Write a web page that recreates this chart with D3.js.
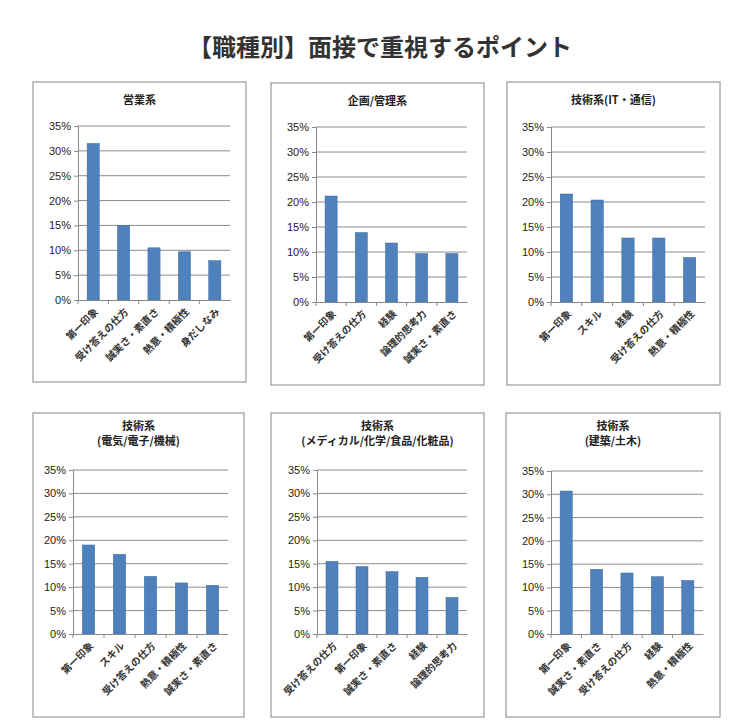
<!DOCTYPE html>
<html><head><meta charset="utf-8">
<script src="https://cdn.jsdelivr.net/npm/d3@7"></script>
<style>body{margin:0;background:#fff;font-family:"Noto Sans CJK JP",sans-serif}</style>
</head><body><svg width="742" height="728"></svg>
<script>
var titles = [["営業系"], ["企画/管理系"], ["技術系(IT・通信)"],
  ["技術系", "(電気/電子/機械)"], ["技術系", "(メディカル/化学/食品/化粧品)"], ["技術系", "(建築/土木)"]];
var cats = [
  ["第一印象", "受け答えの仕方", "誠実さ・素直さ", "熱意・積極性", "身だしなみ"],
  ["第一印象", "受け答えの仕方", "経験", "論理的思考力", "誠実さ・素直さ"],
  ["第一印象", "スキル", "経験", "受け答えの仕方", "熱意・積極性"],
  ["第一印象", "スキル", "受け答えの仕方", "熱意・積極性", "誠実さ・素直さ"],
  ["受け答えの仕方", "第一印象", "誠実さ・素直さ", "経験", "論理的思考力"],
  ["第一印象", "誠実さ・素直さ", "受け答えの仕方", "経験", "熱意・積極性"]];
var values = [
  [31.5, 15.0, 10.5, 9.7, 7.9],
  [21.2, 13.9, 11.8, 9.7, 9.7],
  [21.6, 20.4, 12.8, 12.8, 8.9],
  [19.0, 17.0, 12.3, 10.9, 10.4],
  [15.5, 14.4, 13.3, 12.1, 7.8],
  [30.7, 13.9, 13.1, 12.3, 11.5]];
var ticks = [0, 5, 10, 15, 20, 25, 30, 35];

// panel layout: box, axis x, top y, bottom y, right x
var panels = [
  {bx:33, by:82, bw:213, bh:300, ax:78, top:126, bot:300, rx:230},
  {bx:271, by:83, bw:213, bh:302, ax:316, top:127, bot:302, rx:467},
  {bx:507, by:82, bw:213, bh:303, ax:551, top:127, bot:302, rx:705},
  {bx:33, by:413, bw:211, bh:304, ax:73, top:470, bot:634, rx:228},
  {bx:271, by:413, bw:213, bh:304, ax:317, top:470, bot:634, rx:467},
  {bx:506, by:413, bw:214, bh:304, ax:551, top:471, bot:634, rx:703}];

var svg = d3.select("svg");
svg.append("text").attr("x", 380).attr("y", 56).attr("text-anchor", "middle")
  .attr("font-size", 24).attr("font-weight", "bold").attr("fill", "#333")
  .text("【職種別】面接で重視するポイント");

panels.forEach(function(p, i) {
  var g = svg.append("g");
  g.append("rect").attr("x", p.bx).attr("y", p.by).attr("width", p.bw).attr("height", p.bh)
    .attr("fill", "#fff").attr("stroke", "#999").attr("stroke-width", 1.2);
  var t = g.append("text").attr("text-anchor", "middle").attr("font-size", 11)
    .attr("font-weight", "bold").attr("fill", "#222");
  titles[i].forEach(function(s, k) {
    t.append("tspan").attr("x", p.bx + p.bw / 2)
      .attr("y", p.by + (titles[i].length == 1 ? 22 : 17 + k * 15)).text(s);
  });
  var x = d3.scaleBand().domain(cats[i]).range([p.ax, p.rx]);
  var y = d3.scaleLinear().domain([0, 35]).range([p.bot, p.top]);
  g.selectAll(".grid").data(ticks.slice(1)).enter().append("line")
    .attr("x1", p.ax).attr("x2", p.rx).attr("y1", y).attr("y2", y)
    .attr("stroke", "#8c8c8c").attr("stroke-width", 1);
  var ya = g.append("g").attr("transform", "translate(" + p.ax + ",0)")
    .call(d3.axisLeft(y).tickValues(ticks).tickSize(4).tickFormat(function(d){return d + "%";}));
  ya.selectAll("text").attr("font-size", 11).attr("fill", "#222").attr("font-family", "Liberation Sans, sans-serif");
  ya.selectAll("line,path").attr("stroke", "#888");
  g.selectAll(".bar").data(values[i]).enter().append("rect")
    .attr("x", function(d, j){return x(cats[i][j]) + x.bandwidth() * 0.3;})
    .attr("width", x.bandwidth() * 0.4)
    .attr("y", y).attr("height", function(d){return p.bot - y(d);})
    .attr("fill", "#4f81bd").attr("stroke", "#3c6a9e").attr("stroke-width", 0.5);
  var xa = g.append("g").attr("transform", "translate(0," + p.bot + ")")
    .call(d3.axisBottom(x).tickSize(0).tickFormat(""));
  xa.selectAll("path").attr("stroke", "#888");
  x.domain().forEach(function(c, j) {
    g.append("line").attr("x1", p.ax + j * x.step()).attr("x2", p.ax + j * x.step())
      .attr("y1", p.bot).attr("y2", p.bot + 4).attr("stroke", "#888");
  });
  g.selectAll(".lab").data(cats[i]).enter().append("text")
    .attr("transform", function(d){return "translate(" + (x(d) + x.bandwidth() * 0.6) + "," + (p.bot + 10) + ") rotate(-45)";})
    .attr("text-anchor", "end").attr("dy", "0.35em").attr("font-size", 10)
    .attr("font-weight", "bold").attr("fill", "#333").text(function(d){return d;});
});
</script></body></html>
